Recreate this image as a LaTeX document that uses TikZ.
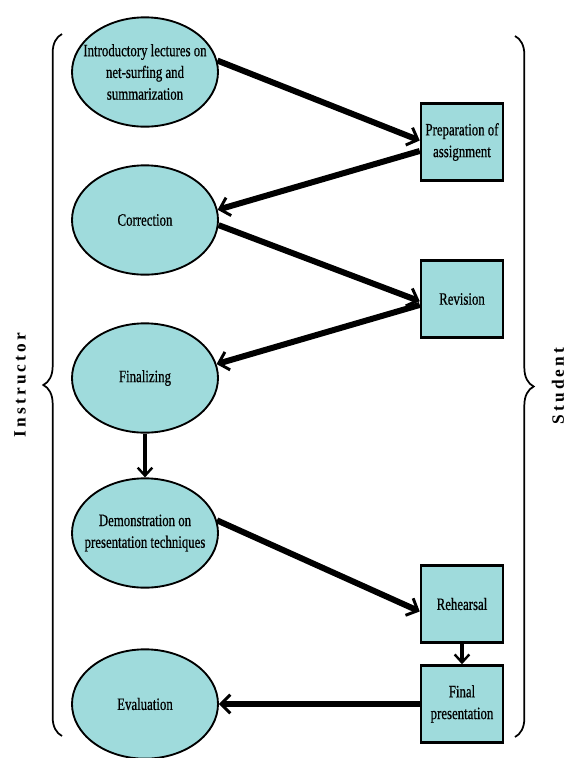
\documentclass[tikz,border=0pt]{standalone}
\usepackage{fontspec}
\usetikzlibrary{shapes.geometric,arrows.meta,decorations.pathreplacing}

\newfontfamily\nodefont[FakeStretch=0.74,FakeBold=0.6]{Liberation Serif}
\newfontfamily\sidefont[LetterSpace=18]{Liberation Serif}
\definecolor{boxcyan}{RGB}{159,219,220}

\tikzset{every picture/.style={line width=0.75pt}}
\tikzset{
  stepellipse/.style={ellipse,draw,line width=1.4pt,fill=boxcyan,minimum width=109.5pt,minimum height=82pt,inner sep=-12pt,align=center,font=\nodefont\fontsize{13}{16.3}\selectfont},
  stepbox/.style={rectangle,draw,line width=1.9pt,fill=boxcyan,minimum width=61.5pt,minimum height=57.75pt,inner sep=0pt,align=center,font=\nodefont\fontsize{13}{16.3}\selectfont},
  flowarrow/.style={line width=4.5pt,-{Straight Barb[length=7pt,width=14pt,line width=2.2pt]}},
  downarrow/.style={line width=2.4pt,-{Straight Barb[length=6pt,width=11pt,line width=1.8pt]}},
  sidebrace/.style={decorate,decoration={brace,amplitude=14pt},line width=1.3pt},
  sidelabel/.style={rotate=90,font=\sidefont\bfseries\fontsize{13}{15}\selectfont}
}

\begin{document}
\begin{tikzpicture}[x=0.75pt,y=0.75pt,yscale=-1,xscale=1]
	\useasboundingbox (0,0) rectangle (576,758);
	
	%Instructor side
	\node[stepellipse] (intro) at (145,72) {Introductory lectures on\\net-surfing and\\summarization};
	\node[stepellipse] (corr) at (145,220) {Correction};
	\node[stepellipse] (final) at (145,378) {Finalizing};
	\node[stepellipse] (demo) at (145,533) {Demonstration on\\presentation techniques};
	\node[stepellipse] (eval) at (145,704) {Evaluation};
	
	%Student side
	\node[stepbox] (prep) at (462,142) {Preparation of\\assignment};
	\node[stepbox] (rev) at (462,299) {Revision};
	\node[stepbox] (reh) at (462,604) {Rehearsal};
	\node[stepbox] (fpres) at (462,704) {Final\\presentation};
	
	%Flow
	\draw[flowarrow] (intro.9) -- (prep.178);
	\draw[flowarrow] (prep.192) -- (corr.8);
	\draw[flowarrow] (corr.-4) -- (rev.183);
	\draw[flowarrow] (rev.188) -- (final.11);
	\draw[downarrow] (final.south) -- (demo.north);
	\draw[flowarrow] (demo.10) -- (reh.190);
	\draw[downarrow] (reh.south) -- (fpres.north);
	\draw[flowarrow] (fpres.west) -- (eval.east);
	
	%Braces
	\draw[sidebrace] (62,736) -- (62,34);
	\draw[sidebrace] (515,36) -- (515,737);
	\node[sidelabel] (instr) at (20,385) {Instructor};
	\node[sidelabel] (stud) at (558,386) {Student};
\end{tikzpicture}
\end{document}
